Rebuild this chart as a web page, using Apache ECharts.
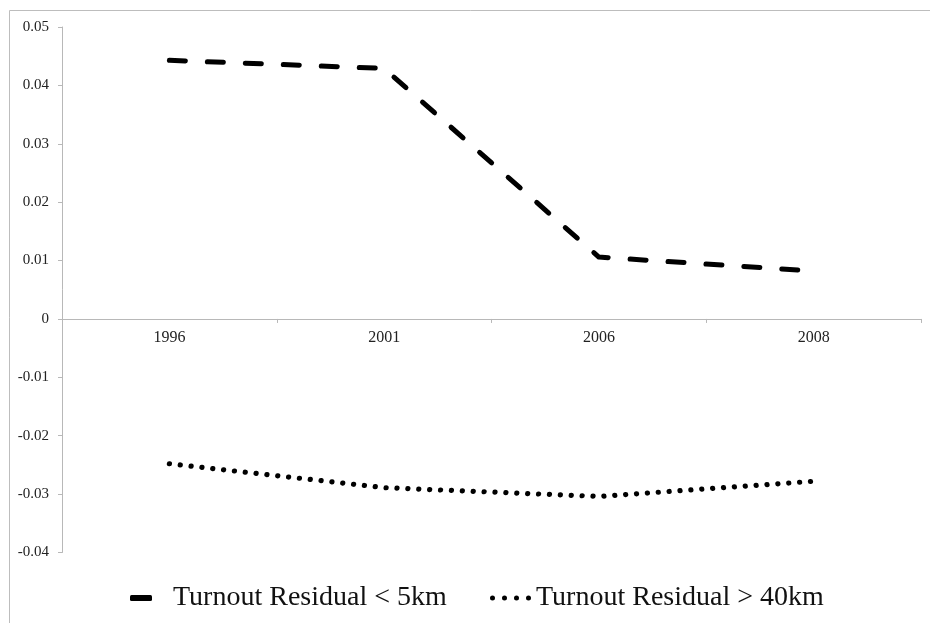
<!DOCTYPE html>
<html>
<head>
<meta charset="utf-8">
<script src="https://cdn.jsdelivr.net/npm/echarts@6/dist/echarts.min.js"></script>
<style>html,body{margin:0;padding:0;background:#fff}#c{width:930px;height:623px}</style>
</head>
<body>
<div id="c"></div>
<script>
const years = ['1996', '2001', '2006', '2008'];
const seriesNames = ['Turnout Residual < 5km', 'Turnout Residual > 40km'];
const near = [0.0443, 0.0429, 0.0106, 0.0082];
const far = [-0.0248, -0.0289, -0.0304, -0.0278];
const yMin = -0.04, yMax = 0.05, yStep = 0.01;

const W = 930, H = 623;
const gridTop = 27, gridBottom = 70.5;
const plotH = H - gridTop - gridBottom;
// shift x axis (line, ticks and labels) up from the grid bottom to the zero line
const zeroOffset = -plotH * (0 - yMin) / (yMax - yMin);

const chart = echarts.init(document.getElementById('c'), null, {renderer: 'canvas'});
const FONT = 'Liberation Serif';
const AX = '#b8b8b8';
const dotsIcon = 'path://M0,2.5a2.5,2.5 0 1,0 5,0a2.5,2.5 0 1,0 -5,0Z' +
  'M12,2.5a2.5,2.5 0 1,0 5,0a2.5,2.5 0 1,0 -5,0Z' +
  'M24,2.5a2.5,2.5 0 1,0 5,0a2.5,2.5 0 1,0 -5,0Z' +
  'M36,2.5a2.5,2.5 0 1,0 5,0a2.5,2.5 0 1,0 -5,0Z';
chart.setOption({
  animation: false,
  graphic: [{
    type: 'rect', left: 7, top: 8, silent: true,
    shape: {x: 0.5, y: 0.5, width: 940, height: 640},
    style: {fill: 'none', stroke: '#bdbdbd', lineWidth: 1}
  }],
  grid: {left: 62, right: 9, top: gridTop, bottom: gridBottom, containLabel: false},
  xAxis: {
    type: 'category', data: years, boundaryGap: true, position: 'bottom', offset: zeroOffset,
    axisLine: {onZero: false, lineStyle: {color: AX, width: 1}},
    axisTick: {show: true, length: 4, interval: 0, alignWithLabel: false, lineStyle: {color: AX}},
    axisLabel: {fontFamily: FONT, fontSize: 16, color: '#222', margin: 11}
  },
  yAxis: {
    type: 'value', min: yMin, max: yMax, interval: yStep,
    axisLine: {show: true, lineStyle: {color: AX, width: 1}},
    axisTick: {show: true, length: 4, lineStyle: {color: AX}},
    splitLine: {show: false},
    axisLabel: {fontFamily: FONT, fontSize: 15, color: '#222', margin: 13,
      formatter: v => String(+v.toFixed(2))}
  },
  legend: [{
    data: [{name: seriesNames[0], icon: 'roundRect'}],
    left: 130, top: 584, padding: 0, itemWidth: 22, itemHeight: 6,
    itemStyle: {color: '#000'},
    textStyle: {fontFamily: FONT, fontSize: 28, color: '#111', padding: [0, 0, 0, 16]}
  }, {
    data: [{name: seriesNames[1], icon: dotsIcon}],
    left: 490, top: 584, padding: 0, itemWidth: 41, itemHeight: 5,
    itemStyle: {color: '#000'},
    textStyle: {fontFamily: FONT, fontSize: 28, color: '#111'}
  }],
  series: [{
    name: seriesNames[0], type: 'line', data: near, symbol: 'none',
    lineStyle: {color: '#000', width: 5, type: [16, 22], cap: 'round', join: 'round'},
    itemStyle: {color: '#000'}
  }, {
    name: seriesNames[1], type: 'line', data: far, symbol: 'none',
    lineStyle: {color: '#000', width: 5.2, type: [0.1, 10.8], cap: 'round', join: 'round'},
    itemStyle: {color: '#000'}
  }]
});
</script>
</body>
</html>
